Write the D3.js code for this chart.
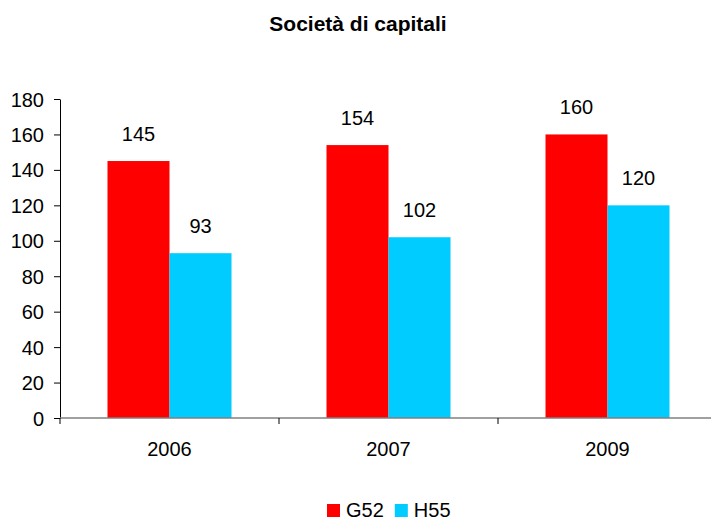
<!DOCTYPE html>
<html><head><meta charset="utf-8">
<script src="https://cdn.jsdelivr.net/npm/d3@7"></script>
<style>body{margin:0;background:#fff}svg{display:block;font-family:"Liberation Sans",Arial,sans-serif}</style>
</head><body>
<svg id="c" width="711" height="521"></svg>
<script>
const categories = ["2006", "2007", "2009"];
const seriesNames = ["G52", "H55"];
const seriesColors = ["#FF0000", "#00CCFF"];
const valuesG52 = [145, 154, 160];
const valuesH55 = [93, 102, 120];
const yTicks = [0, 20, 40, 60, 80, 100, 120, 140, 160, 180];
const title = "Società di capitali";

(function () {
const svg = d3.select("#c");
const mLeft = 60, mRight = 717, mTop = 99, mBottom = 418;
const FS = 20;
const x = d3.scaleBand().domain(categories).range([mLeft, mRight]).paddingInner(0).paddingOuter(0);
const y = d3.scaleLinear().domain([0, 180]).range([mBottom, mTop]);
const barW = 62;
const data = [valuesG52, valuesH55];

svg.append("text").attr("x", 358).attr("y", 31).attr("text-anchor", "middle")
  .attr("font-weight", "bold").attr("font-size", 21).text(title);

// y axis
const ya = svg.append("g").attr("transform", `translate(${mLeft},0)`)
  .call(d3.axisLeft(y).tickValues(yTicks).tickSize(6).tickSizeOuter(0).tickPadding(10));
ya.select(".domain").attr("stroke", "#000");
ya.selectAll(".tick line").attr("stroke", "#000");
ya.selectAll(".tick text").attr("font-size", FS).attr("fill", "#000").attr("dy", "0.35em")
  .attr("font-family", "Liberation Sans, Arial, sans-serif");

// bars
categories.forEach((c, i) => {
  data.forEach((vals, s) => {
    const cx = x(c) + x.bandwidth() / 2;
    const bx = cx - barW + s * barW;
    svg.append("rect").attr("x", bx).attr("y", y(vals[i])).attr("width", barW)
      .attr("height", y(0) - y(vals[i])).attr("fill", seriesColors[s]);
    svg.append("text").attr("x", bx + barW / 2).attr("y", y(vals[i]) - 20)
      .attr("text-anchor", "middle").attr("font-size", FS).text(vals[i]);
  });
});

// x axis
svg.append("line").attr("x1", mLeft).attr("x2", 711).attr("y1", mBottom).attr("y2", mBottom)
  .attr("stroke", "#808080").attr("stroke-width", 1.5);
categories.forEach((c, i) => {
  const xb = x(c);
  svg.append("line").attr("x1", xb).attr("x2", xb).attr("y1", mBottom).attr("y2", mBottom + 6).attr("stroke", "#000");
  svg.append("text").attr("x", xb + x.bandwidth() / 2).attr("y", 456).attr("text-anchor", "middle")
    .attr("font-size", FS).text(c);
});

// legend
const lg = svg.append("g").attr("transform", "translate(327,504)");
let lx = 0;
seriesNames.forEach((n, s) => {
  lg.append("rect").attr("x", lx).attr("y", 0).attr("width", 13).attr("height", 13).attr("fill", seriesColors[s]);
  const t = lg.append("text").attr("x", lx + 19).attr("y", 13).attr("font-size", FS).text(n);
  lx += 19 + t.node().getComputedTextLength() + 11;
});
})();
</script>
</body></html>
